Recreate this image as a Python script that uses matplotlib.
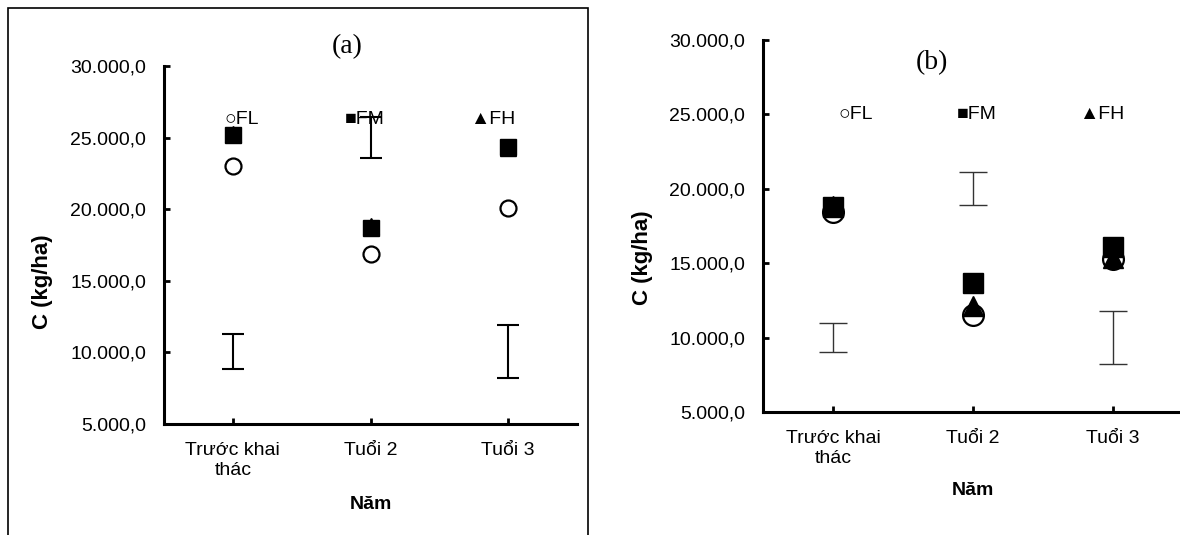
import matplotlib
matplotlib.use("Agg")
import matplotlib.pyplot as plt
from matplotlib.patches import Rectangle
from matplotlib.ticker import FuncFormatter

plt.rcParams["font.family"] = ["Liberation Sans", "DejaVu Sans"]

categories = ["Trước khai\nthác", "Tuổi 2", "Tuổi 3"]
series = ["FL", "FM", "FH"]

# panel (a)
a_fl = [23000, 16900, 20100]
a_fm = [25200, 18700, 24350]
a_fh = [25250, 18850, 24300]
a_err_mid = [10050, 25000, 10050]
a_err_half = [1200, 1450, 1850]

# panel (b)
b_fl = [18450, 11550, 15250]
b_fm = [18750, 13700, 16100]
b_fh = [18850, 12100, 15350]
b_err_mid = [10000, 20000, 10000]
b_err_half = [980, 1120, 1780]

# series label spots (data coords)
a_label_x = [0.94, 1.81, 2.72]
a_label_y = 26250
b_label_x = [1.04, 1.885, 2.76]
b_label_y = 25000


def fmt_vn(v, pos):
    s = f"{v:,.1f}"
    return s.replace(",", "X").replace(".", ",").replace("X", ".")


def draw_panel(ax, fl, fm, fh, err_mid, err_half, label_x, label_y,
               ms, err_lw, err_color, capsize):
    x = [1, 2, 3]
    ax.errorbar(x, err_mid, yerr=err_half, fmt="none", ecolor=err_color,
                elinewidth=err_lw, capsize=capsize, capthick=err_lw, zorder=2)
    ax.plot(x, fl, linestyle="none", marker="o", ms=ms, mfc="white",
            mec="black", mew=1.6, zorder=3)
    ax.plot(x, fh, linestyle="none", marker="^", ms=ms, color="black", zorder=4)
    ax.plot(x, fm, linestyle="none", marker="s", ms=ms, color="black", zorder=5)

    glyphs = ["○", "■", "▲"]
    for gx, g, name in zip(label_x, glyphs, series):
        ax.text(gx, label_y, g + name, fontsize=14, ha="left", va="center",
                zorder=6)

    ax.set_xlim(0.5, 3.5)
    ax.set_ylim(5000, 30000)
    ax.set_xticks(x)
    ax.set_xticklabels(categories, fontsize=14, linespacing=1.25)
    ax.set_yticks([5000, 10000, 15000, 20000, 25000, 30000])
    ax.yaxis.set_major_formatter(FuncFormatter(fmt_vn))
    ax.tick_params(axis="y", direction="in", length=4, width=2,
                   labelsize=14, pad=13)
    ax.tick_params(axis="x", direction="in", length=4, width=2, pad=13)
    for side in ["top", "right"]:
        ax.spines[side].set_visible(False)
    for side in ["left", "bottom"]:
        ax.spines[side].set_linewidth(2.2)
    ax.set_ylabel("C (kg/ha)", fontsize=16, fontweight="bold")
    ax.set_xlabel("Năm", fontsize=14, fontweight="bold")
    ax.patch.set_alpha(0)


fig = plt.figure(figsize=(11.8, 5.35), dpi=100)

ax_a = fig.add_axes([0.1390, 0.2075, 0.3500, 0.6691])
draw_panel(ax_a, a_fl, a_fm, a_fh, a_err_mid, a_err_half, a_label_x,
           a_label_y, ms=11.5, err_lw=1.5, err_color="black", capsize=8)
ax_a.yaxis.set_label_coords(-0.269, 0.397)
ax_a.xaxis.set_label_coords(0.5, -0.201)
ax_a.text(0.443, 1.054, "(a)", transform=ax_a.transAxes, ha="center",
          va="center", fontsize=20, family="Liberation Serif")

ax_b = fig.add_axes([0.6466, 0.2299, 0.3559, 0.6953])
draw_panel(ax_b, b_fl, b_fm, b_fh, b_err_mid, b_err_half, b_label_x,
           b_label_y, ms=15, err_lw=1.0, err_color="#333333", capsize=10)
ax_b.yaxis.set_label_coords(-0.262, 0.414)
ax_b.xaxis.set_label_coords(0.5, -0.188)
ax_b.text(0.403, 0.939, "(b)", transform=ax_b.transAxes, ha="center",
          va="center", fontsize=20, family="Liberation Serif")

# frame around panel (a), open at the bottom edge of the image
frame = Rectangle((8 / 1180, -0.05), (588 - 8) / 1180, 1.05 - 8 / 535,
                  transform=fig.transFigure, fill=False, edgecolor="black",
                  linewidth=1.2)
fig.patches.append(frame)

fig.savefig("out.png", dpi=100)
